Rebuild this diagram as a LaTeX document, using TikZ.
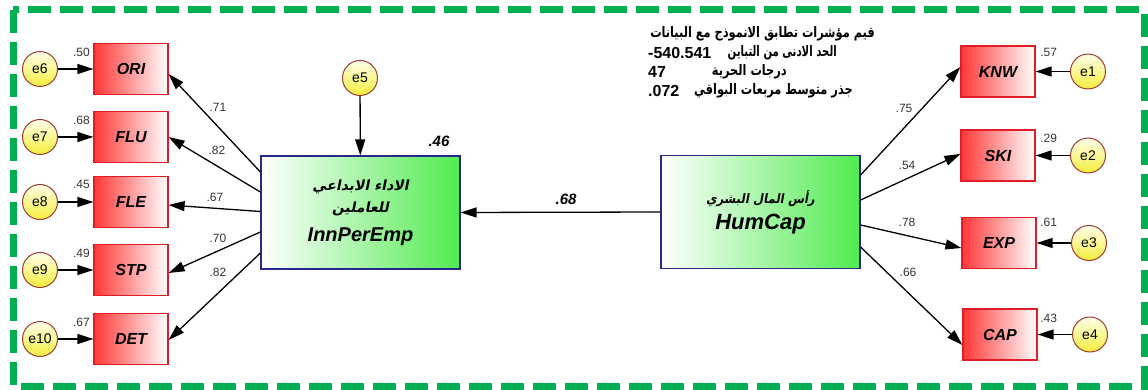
\documentclass[tikz,border=0pt]{standalone}
\usepackage{fontspec}
\setmainfont{Liberation Sans}
\newfontfamily\arabicfont[Script=Arabic]{DejaVu Sans}
\newfontfamily\arabicslant[Script=Arabic,FakeSlant=0.2]{DejaVu Sans}
\TeXXeTstate=1
\usetikzlibrary{arrows.meta,calc}

\definecolor{framegreen}{RGB}{0,176,80}
\definecolor{obsred}{RGB}{255,55,55}
\definecolor{obsedge}{RGB}{225,30,40}
\definecolor{latedge}{RGB}{40,40,140}
\definecolor{latgreen}{RGB}{80,235,80}
\definecolor{erredge}{RGB}{160,60,50}
\definecolor{erryellow}{RGB}{245,238,60}

\tikzset{
  obsbox/.style={rectangle, draw=obsedge, line width=1.2pt,
    left color=obsred, middle color=obsred!45!white, right color=white,
    minimum width=74pt, minimum height=51pt, inner sep=0pt,
    font=\bfseries\itshape\fontsize{16}{16}\selectfont},
  latbox/.style={rectangle, draw=latedge, line width=1.2pt,
    left color=white, middle color=latgreen!70!white, right color=latgreen,
    minimum width=199pt, minimum height=113pt, align=center, inner sep=0pt,
    font=\fontsize{14}{22}\selectfont},
  errnode/.style={circle, draw=erredge, line width=1pt,
    top color=yellow!8!white, bottom color=erryellow,
    minimum size=35pt, inner sep=0pt, font=\fontsize{14}{14}\selectfont},
  regarrow/.style={line width=1.3pt, -{Triangle[length=16pt,width=10pt]}},
  coef/.style={font=\fontsize{12}{12}\selectfont, text=black!80, inner sep=0pt},
  boldcoef/.style={font=\bfseries\itshape\fontsize{15}{15}\selectfont, inner sep=0pt},
  fitnum/.style={font=\bfseries\fontsize{16}{16}\selectfont, anchor=west, inner sep=0pt},
  fittext/.style={font=\arabicfont\bfseries\fontsize{14.5}{14.5}\selectfont, anchor=east, inner sep=0pt},
}

\begin{document}
\begin{tikzpicture}[x=1pt, y=-1pt]
\useasboundingbox (0,0) rectangle (1148,390);

% dashed outer frame
\draw[framegreen, line width=7pt, dash pattern=on 23pt off 9pt] (13,10) rectangle (1144,386);

% latent constructs
\node[latbox] (inn) at (360.5,212.5) {%
  {\arabicslant\bfseries\beginR الاداء الابداعي\endR}\\
  {\arabicslant\bfseries\beginR للعاملين\endR}\\[7pt]
  {\bfseries\itshape\fontsize{20}{22}\selectfont InnPerEmp}};
\node[latbox] (hum) at (760.5,212) {%
  {\arabicslant\bfseries\fontsize{13}{22}\selectfont\scalebox{0.9}[1]{\beginR رأس المال البشري\endR}}\\[4pt]
  {\bfseries\itshape\fontsize{22}{22}\selectfont HumCap}};

% indicators of InnPerEmp
\node[obsbox] (ori) at (131,69)  {ORI};
\node[obsbox] (flu) at (131,137) {FLU};
\node[obsbox] (fle) at (131,202) {FLE};
\node[obsbox] (stp) at (131,270) {STP};
\node[obsbox] (det) at (131,339) {DET};

% indicators of HumCap
\node[obsbox] (knw) at (998,71.5)  {KNW};
\node[obsbox] (ski) at (998,155.5) {SKI};
\node[obsbox] (exp) at (999,243)   {EXP};
\node[obsbox] (cap) at (1000,334.5){CAP};

% error terms
\node[errnode] (e6)  at (40,69)  {e6};
\node[errnode] (e7)  at (40,137) {e7};
\node[errnode] (e8)  at (40,202) {e8};
\node[errnode] (e9)  at (40,270) {e9};
\node[errnode] (e10) at (40,339) {e10};
\node[errnode] (e1)  at (1088,71.5)  {e1};
\node[errnode] (e2)  at (1088,155.5) {e2};
\node[errnode] (e3)  at (1089,243)   {e3};
\node[errnode] (e4)  at (1090,334.5) {e4};
\node[errnode] (e5)  at (360,78) {e5};

% error arrows
\foreach \e/\b in {e6/ori,e7/flu,e8/fle,e9/stp,e10/det,e1/knw,e2/ski,e3/exp,e4/cap}
  \draw[regarrow] (\e) -- (\b);
\draw[regarrow] (e5) -- (inn);

% structural path
\draw[regarrow] (hum.west) -- (inn.east);
\node[boldcoef] (bstruct) at (566,199) {.68};
\node[boldcoef] (r2inn) at (439,141) {.46};

% loadings of InnPerEmp
\draw[regarrow] ($(inn.west)+(0,-40.5)$) -- ($(ori.east)+(0,5)$);
\draw[regarrow] ($(inn.west)+(0,-20.5)$) -- ($(flu.east)+(0,0)$);
\draw[regarrow] ($(inn.west)+(0,-1)$)    -- ($(fle.east)+(0,3)$);
\draw[regarrow] ($(inn.west)+(0,19.5)$)  -- ($(stp.east)+(0,3)$);
\draw[regarrow] ($(inn.west)+(0,40.5)$)  -- ($(det.east)+(0,1)$);
\node[coef] (l1) at (218,107) {.71};
\node[coef] (l2) at (217,150) {.82};
\node[coef] (l3) at (215,197) {.67};
\node[coef] (l4) at (218,238) {.70};
\node[coef] (l5) at (218,272) {.82};

% loadings of HumCap
\draw[regarrow] ($(hum.east)+(0,-37)$) -- ($(knw.west)+(0,-4.5)$);
\draw[regarrow] ($(hum.east)+(0,-12)$) -- ($(ski.west)+(0,-1.5)$);
\draw[regarrow] ($(hum.east)+(0,13)$)  -- ($(exp.west)+(0,5)$);
\draw[regarrow] ($(hum.east)+(0,35)$)  -- ($(cap.west)+(0,10.5)$);
\node[coef] (l6) at (904,108) {.75};
\node[coef] (l7) at (907,165) {.54};
\node[coef] (l8) at (907,222) {.78};
\node[coef] (l9) at (908,272) {.66};

% squared multiple correlations
\node[coef] (r6)  at ($(ori.west)+(-12,-17)$) {.50};
\node[coef] (r7)  at ($(flu.west)+(-12,-17)$) {.68};
\node[coef] (r8)  at ($(fle.west)+(-12,-18)$) {.45};
\node[coef] (r9)  at ($(stp.west)+(-12,-17)$) {.49};
\node[coef] (r10) at ($(det.west)+(-12,-17)$) {.67};
\node[coef] (r1)  at ($(knw.east)+(13,-19.5)$) {.57};
\node[coef] (r2)  at ($(ski.east)+(13,-17.5)$) {.29};
\node[coef] (r3)  at ($(exp.east)+(12,-21)$)   {.61};
\node[coef] (r4)  at ($(cap.east)+(11,-16.5)$) {.43};

% model fit summary (Arabic narrowed horizontally to fit the column)
\node[fittext] (fit1) at (875,34) {\scalebox{0.784}[1]{\beginR قيم مؤشرات تطابق الانموذج مع البيانات\endR}};
\node[fittext] (fit2) at (837,53) {\scalebox{0.7}[1]{\beginR الحد الادنى من التباين\endR}};
\node[fittext] (fit3) at (787,72) {\scalebox{0.784}[1]{\beginR درجات الحرية\endR}};
\node[fittext] (fit4) at (853,91) {\scalebox{0.784}[1]{\beginR جذر متوسط مربعات البواقي\endR}};
\node[fitnum] (num2) at (648,53) {-540.541};
\node[fitnum] (num3) at (648,72) {47};
\node[fitnum] (num4) at (648,91) {.072};
\end{tikzpicture}
\end{document}
